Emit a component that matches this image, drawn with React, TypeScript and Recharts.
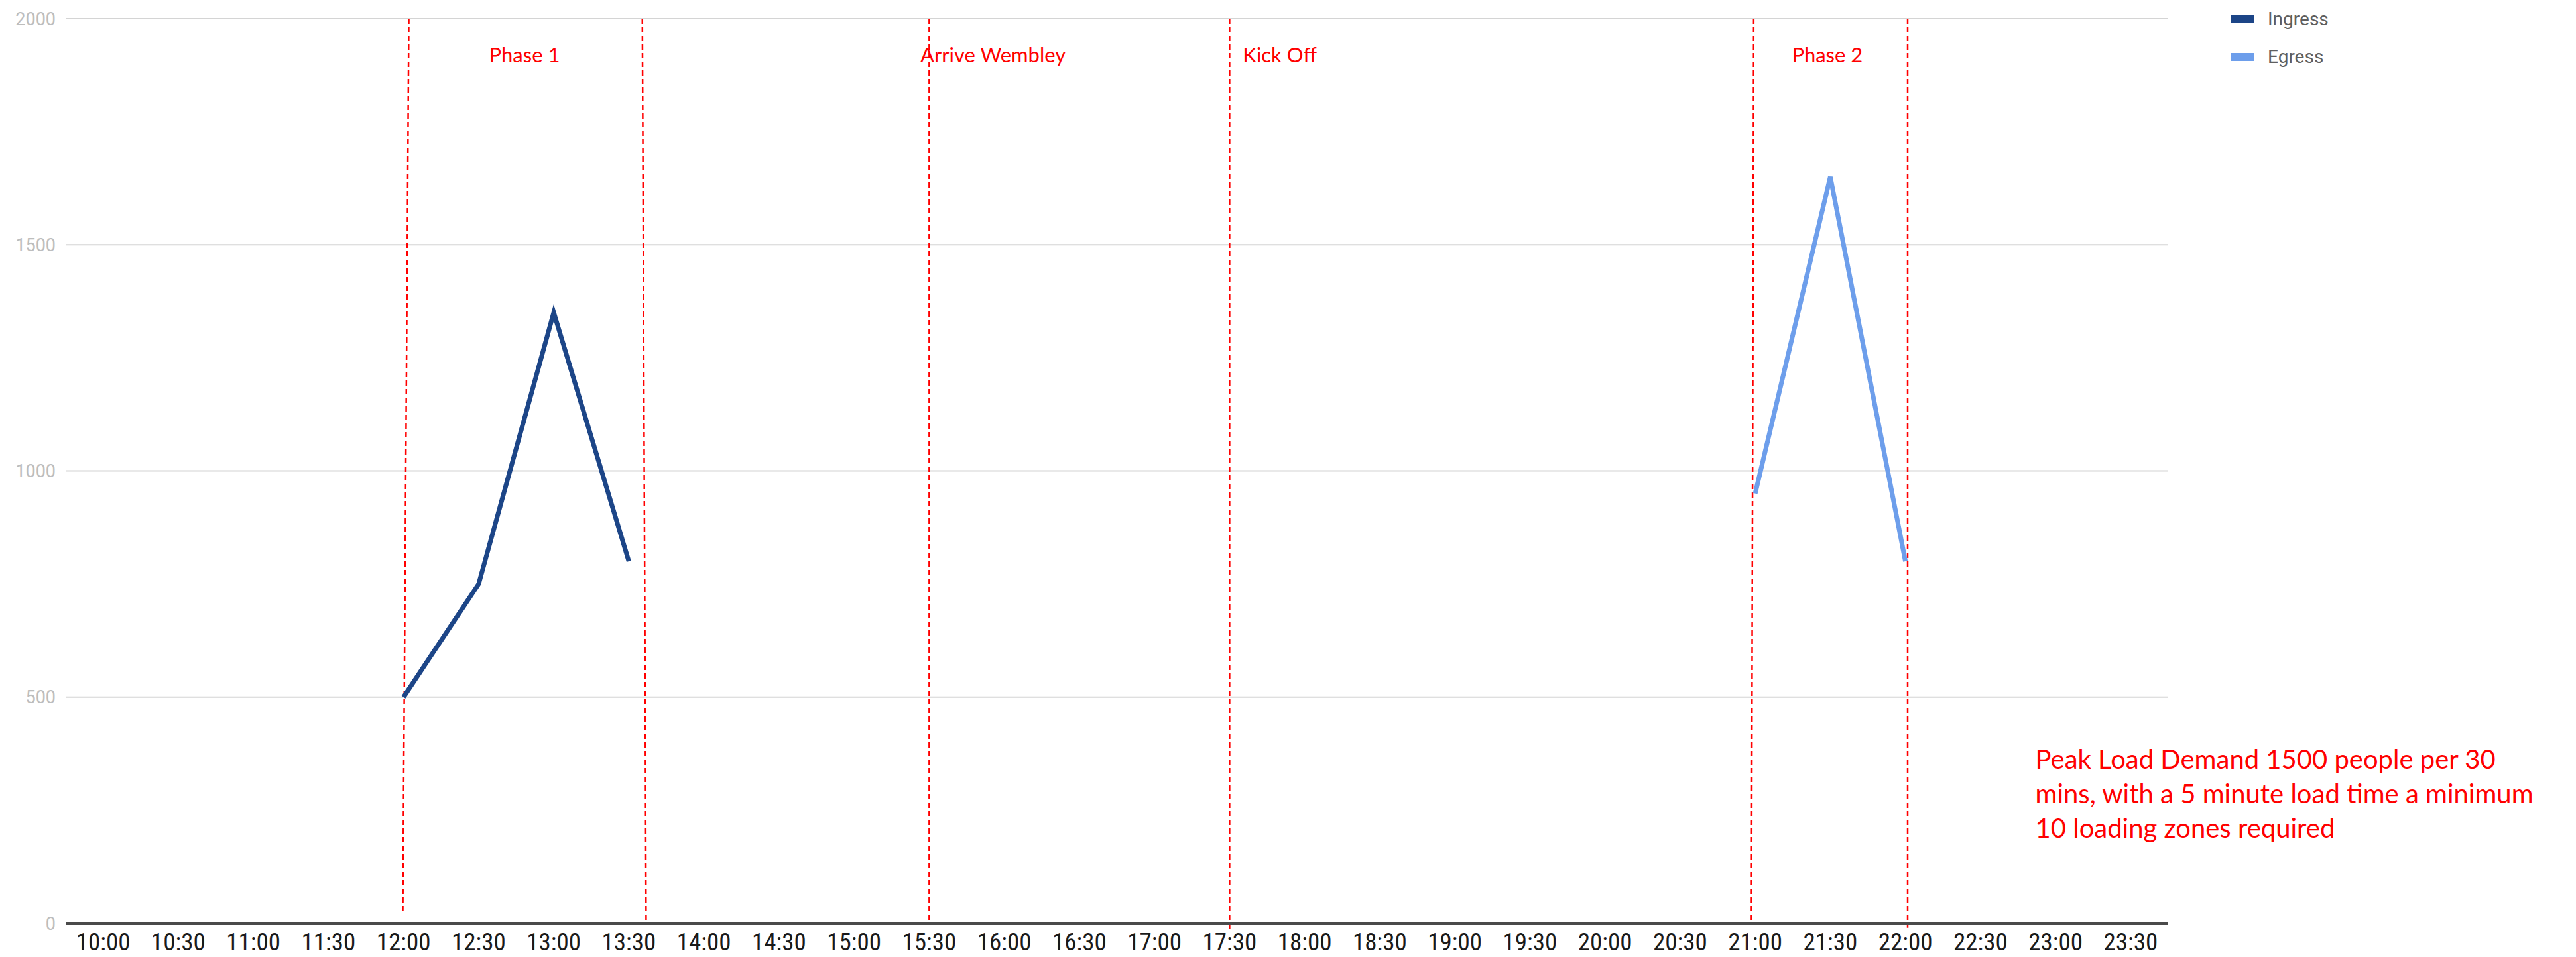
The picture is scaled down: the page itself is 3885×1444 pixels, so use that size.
import React from 'react';
import {
  LineChart,
  Line,
  XAxis,
  YAxis,
  CartesianGrid,
  ReferenceLine,
  ReferenceDot,
} from 'recharts';

// ---- data ----
const times = [
  '10:00', '10:30', '11:00', '11:30', '12:00', '12:30', '13:00', '13:30',
  '14:00', '14:30', '15:00', '15:30', '16:00', '16:30', '17:00', '17:30',
  '18:00', '18:30', '19:00', '19:30', '20:00', '20:30', '21:00', '21:30',
  '22:00', '22:30', '23:00', '23:30',
];
const ingress: (number | null)[] = [
  null, null, null, null, 500, 750, 1350, 800,
  null, null, null, null, null, null, null, null,
  null, null, null, null, null, null, null, null,
  null, null, null, null,
];
const egress: (number | null)[] = [
  null, null, null, null, null, null, null, null,
  null, null, null, null, null, null, null, null,
  null, null, null, null, null, null, 950, 1650,
  800, null, null, null,
];
const yTicks = [0, 500, 1000, 1500, 2000];

// dashed marker lines (x in category index units)
const markerLines = [
  { xTop: 4.07, xBot: 3.99, yBot: 25 },
  { xTop: 7.18, xBot: 7.23, yBot: 0 },
  { xTop: 11.0, xBot: 11.0, yBot: 0 },
  { xTop: 15.0, xBot: 15.0, yBot: -20 },
  { xTop: 21.98, xBot: 21.95, yBot: 0 },
  { xTop: 24.03, xBot: 24.03, yBot: -10 },
];
const markerLabels = [
  { text: 'Phase 1', x: 5.61, y: 1921 },
  { text: 'Arrive Wembley', x: 11.85, y: 1921 },
  { text: 'Kick Off', x: 15.67, y: 1921 },
  { text: 'Phase 2', x: 22.96, y: 1921 },
];
const noteLines = [
  'Peak Load Demand 1500 people per 30',
  'mins, with a 5 minute load time a minimum',
  '10 loading zones required',
];
const notePos = { x: 25.73, y: 363 };

const series = [
  { key: 'ingress', name: 'Ingress', color: '#1c4587' },
  { key: 'egress', name: 'Egress', color: '#6d9eeb' },
];

const rows = times.map((t, i) => ({ i, time: t, ingress: ingress[i], egress: egress[i] }));
const tickIdx = times.map((_, i) => i);

const RED = '#ff0000';
const redFont = "Lato, 'Open Sans', sans-serif";

const LegendBox = () => (
  <div
    style={{
      position: 'absolute',
      left: 3365,
      top: 0,
      fontFamily: 'Roboto, sans-serif',
    }}
  >
    {series.map((s) => (
      <div key={s.key} style={{ display: 'flex', alignItems: 'center', height: 57 }}>
        <div style={{ width: 34, height: 12, background: s.color, marginRight: 21 }} />
        <span style={{ fontSize: 28, color: '#5f5f5f' }}>{s.name}</span>
      </div>
    ))}
  </div>
);

export default function App() {
  return (
    <div style={{ position: 'absolute', left: 0, top: 0, width: 3885, height: 1444, background: '#fff' }}>
      <LineChart
        width={3885}
        height={1444}
        data={rows}
        margin={{ top: 28, right: 615, bottom: 0, left: 0 }}
      >
        <CartesianGrid vertical={false} stroke="#d4d4d4" strokeWidth={2} />
        <XAxis
          dataKey="i"
          type="number"
          domain={[-0.5, 27.5]}
          ticks={tickIdx}
          interval={0}
          tickFormatter={(v: number) => times[v]}
          height={51}
          axisLine={{ stroke: '#4a4a4a', strokeWidth: 4 }}
          tickLine={false}
          tickMargin={9}
          tick={{
            fill: '#1a1a1a',
            fontSize: 37,
            fontFamily: "'Liberation Sans Narrow', 'Roboto Condensed', Roboto, sans-serif",
          }}
        />
        <YAxis
          domain={[0, 2000]}
          ticks={yTicks}
          width={99}
          axisLine={false}
          tickLine={false}
          tickMargin={9}
          tick={{ fill: '#bdbdbd', fontSize: 27, fontFamily: 'Roboto, sans-serif' }}
        />
        {markerLines.map((m, k) => (
          <ReferenceLine
            key={'ml' + k}
            segment={[
              { x: m.xTop, y: 2000 },
              { x: m.xBot, y: m.yBot },
            ]}
            stroke={RED}
            strokeWidth={2.5}
            strokeDasharray="8 5"
            ifOverflow="visible"
          />
        ))}
        {series.map((s) => (
          <Line
            key={s.key}
            dataKey={s.key}
            name={s.name}
            stroke={s.color}
            strokeWidth={7}
            dot={false}
            activeDot={false}
            connectNulls={false}
            isAnimationActive={false}
          />
        ))}
        {markerLabels.map((a, k) => (
          <ReferenceDot
            key={'lab' + k}
            x={a.x}
            y={a.y}
            r={0}
            ifOverflow="visible"
            shape={(p: any) => (
              <text
                x={p.cx}
                y={p.cy}
                textAnchor="middle"
                dominantBaseline="central"
                fill={RED}
                fontSize={31}
                fontFamily={redFont}
              >
                {a.text}
              </text>
            )}
          />
        ))}
        <ReferenceDot
          x={notePos.x}
          y={notePos.y}
          r={0}
          ifOverflow="visible"
          shape={(p: any) => (
            <text
              x={p.cx}
              y={p.cy}
              textAnchor="start"
              dominantBaseline="central"
              fill={RED}
              fontSize={40}
              fontFamily={redFont}
            >
              {noteLines.map((t, k) => (
                <tspan key={k} x={p.cx} dy={k === 0 ? 0 : 52}>
                  {t}
                </tspan>
              ))}
            </text>
          )}
        />
      </LineChart>
      <LegendBox />
    </div>
  );
}
